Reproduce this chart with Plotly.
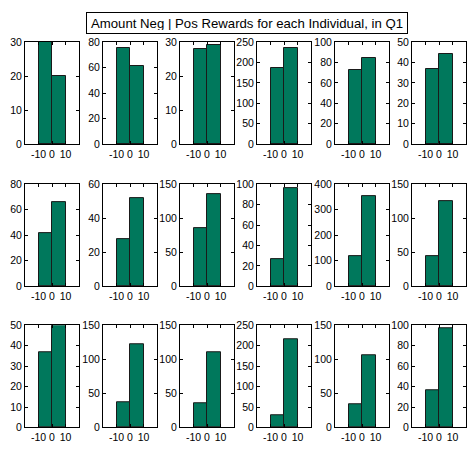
import plotly.graph_objects as go

title_text = "Amount Neg | Pos Rewards for each Individual, in Q1"
bin_centers = [-5, 5]
bin_width = 10
neg_counts = [30, 75, 28, 187, 73, 37,
              42, 28, 85, 27, 120, 45,
              37, 37, 35, 30, 34, 36]
pos_counts = [20, 61, 29, 235, 84, 44,
              66, 52, 135, 96, 352, 125,
              50, 122, 110, 215, 106, 97]
y_max = [30, 80, 30, 250, 100, 50,
         80, 60, 150, 100, 400, 150,
         50, 150, 150, 250, 150, 100]
y_step = [10, 20, 10, 50, 20, 10,
          20, 20, 50, 20, 100, 50,
          10, 50, 50, 50, 50, 20]
x_ticks = [-10, 0, 10]

W, H = 467, 450
col_left = [25, 103, 180, 257, 335, 412]
col_w = 54
row_top = [37, 183, 328]
row_h = 105
bar_color = "#00785C"

fig = go.Figure()
font = dict(family="Liberation Sans, Arial, sans-serif", size=10.5, color="black")

for i in range(18):
    r, c = divmod(i, 6)
    n = i + 1
    xa = "x" if n == 1 else f"x{n}"
    ya = "y" if n == 1 else f"y{n}"
    fig.add_trace(go.Bar(
        x=bin_centers, y=[neg_counts[i], pos_counts[i]], width=bin_width,
        marker=dict(color=bar_color, line=dict(color="#1a1a1a", width=1)),
        xaxis=xa, yaxis=ya, showlegend=False, hoverinfo="x+y"))
    x0 = col_left[c] / W
    x1 = (col_left[c] + col_w) / W
    y1 = 1 - row_top[r] / H
    y0 = 1 - (row_top[r] + row_h) / H
    common = dict(showline=True, mirror="allticks", linecolor="black", linewidth=1,
                  ticks="inside", ticklen=3, tickcolor="black", showgrid=False,
                  zeroline=False, tickfont=font)
    fig.layout[f"xaxis{'' if n == 1 else n}"] = dict(
        domain=[x0, x1], anchor=ya, range=[-20, 20], tickvals=x_ticks,
        ticktext=[str(v) for v in x_ticks], fixedrange=True, **common)
    fig.layout[f"yaxis{'' if n == 1 else n}"] = dict(
        domain=[y0, y1], anchor=xa, range=[0, y_max[i]],
        tickmode="linear", tick0=0, dtick=y_step[i], fixedrange=True, **common)

fig.add_annotation(
    x=(86 + 407) / 2 / W, y=1 - 17 / H, xref="paper", yref="paper",
    xanchor="center", yanchor="middle",
    text=title_text, showarrow=False,
    font=dict(family="Liberation Sans, Arial, sans-serif", size=13.2, color="black"),
    bordercolor="black", borderwidth=1, borderpad=3, bgcolor="white",
    width=314, height=14)

fig.update_layout(width=W, height=H, margin=dict(l=0, r=0, t=0, b=0),
                  paper_bgcolor="white", plot_bgcolor="white", bargap=0)

fig.write_html("out.html", config={"displayModeBar": False},
               post_script="document.body.style.margin='0';document.body.style.overflow='hidden';")
